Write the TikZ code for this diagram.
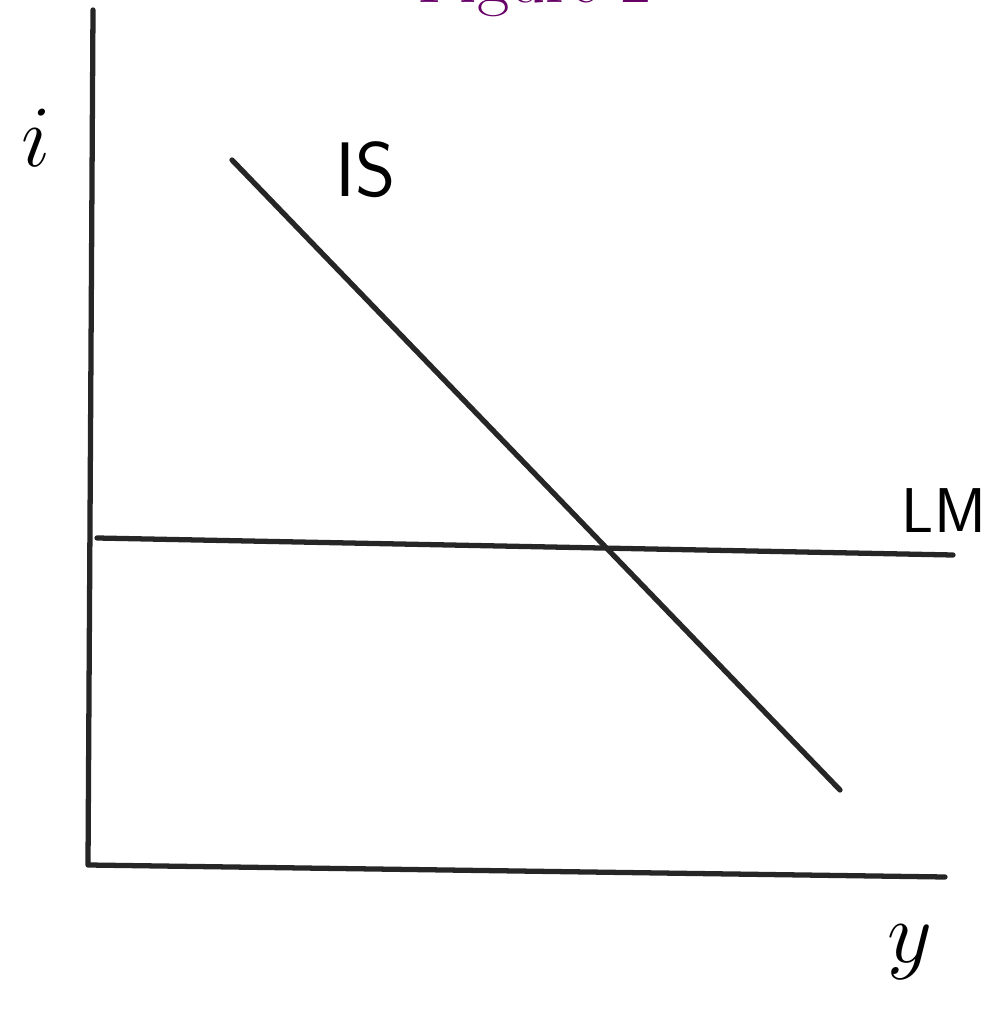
\documentclass[tikz,border=0pt]{standalone}
\usepackage{fontspec}
\begin{document}
\begin{tikzpicture}[line join=round, line cap=round, >=stealth]
				\tikzset{curve/.style={line width=1.5pt, black!85}}
				\useasboundingbox (0,0) rectangle (10.01,10.18);
				\begin{scope}
				\clip (0,0) rectangle (10.01,10.18);
				\node[violet!80!black, font=\fontsize{20}{24}\selectfont, anchor=base, inner sep=0pt] (title) at (5.35,10.15) {Figure 2};
				\end{scope}
				\coordinate (O) at (0.88,1.53);
				\coordinate (Ytop) at (0.93,10.08);
				\coordinate (Xend) at (9.45,1.41);
				\coordinate (LMa) at (0.97,4.80);
				\coordinate (LMb) at (9.53,4.63);
				\coordinate (ISa) at (2.32,8.58);
				\coordinate (ISb) at (8.40,2.28);
				% axes
				\draw[curve] (Ytop) -- (O) -- (Xend);
				% curves
				\draw[curve] (LMa) -- (LMb);
				\draw[curve] (ISa) -- (ISb);
				\node[font=\fontsize{34}{40}\selectfont] (ilabel) at (0.36,8.80) {$i$};
				\node[font=\sffamily\fontsize{22}{26}\selectfont] (islabel) at (3.66,8.48) {IS};
				\node[font=\sffamily\fontsize{18}{22}\selectfont] (lmlabel) at (9.44,5.07) {LM};
				\node[font=\fontsize{34}{40}\selectfont] (ylabel) at (9.10,0.66) {$y$};
			\end{tikzpicture}
\end{document}
